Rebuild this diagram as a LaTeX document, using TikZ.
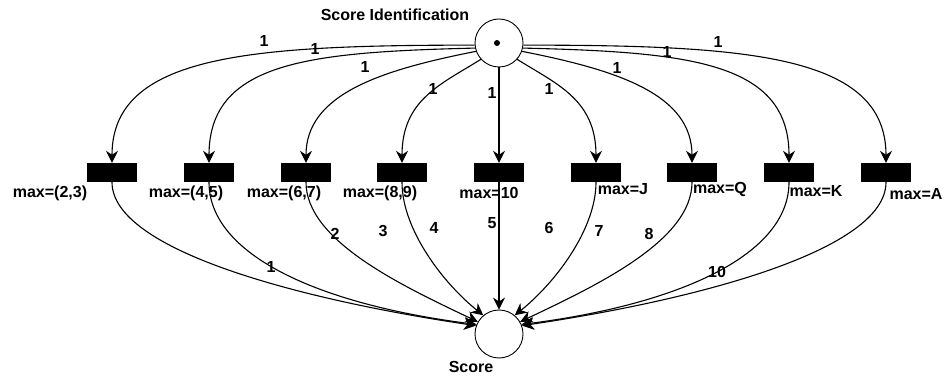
\documentclass[tikz,border=0pt]{standalone}
\usepackage{fontspec}
\setmainfont{Liberation Sans}
\usetikzlibrary{arrows.meta}
\begin{document}
\begin{tikzpicture}[x=1pt,y=-1pt,
  place/.style={circle,draw,line width=0.9pt,minimum size=48pt,inner sep=0pt},
  trans/.style={fill=black,minimum width=50pt,minimum height=19pt,inner sep=0pt},
  lbl/.style={font=\fontsize{16}{18}\selectfont\bfseries,inner sep=0pt},
  arc/.style={line width=1.1pt,-{Stealth[length=12pt,width=12pt,inset=4pt]}},
]
\useasboundingbox (0,0) rectangle (947,379);

% places
\node[place] (top) at (499,43) {};
\node[circle,fill=black,minimum size=6pt,inner sep=0pt] (tok) at (497,43) {};
\node[place] (sc) at (499,334) {};
\node[lbl] (topname) at (395,15) {Score Identification};
\node[lbl] (scname) at (471,367) {Score};

% transitions
\foreach \i/\x in {1/112,2/209,3/306,4/402,5/499,6/596,7/692,8/789,9/886}
  \node[trans] (t\i) at (\x,172.5) {};

% guards
\node[lbl] (g1) at (50,193) {max=(2,3)};
\node[lbl] (g2) at (186,193) {max=(4,5)};
\node[lbl] (g3) at (284,193) {max=(6,7)};
\node[lbl] (g4) at (380,193) {max=(8,9)};
\node[lbl] (g5) at (489,193) {max=10};
\node[lbl] (g6) at (623,189) {max=J};
\node[lbl] (g7) at (720,189) {max=Q};
\node[lbl] (g8) at (816,191) {max=K};
\node[lbl] (g9) at (916,194) {max=A};

% input arcs
\draw[arc] (top.185) .. controls +(-225,0) and +(0,-108) .. (t1.north);
\draw[arc] (top.192) .. controls +(-166,4) and +(0,-101) .. (t2.north);
\draw[arc] (top.200) .. controls +(-97,19) and +(0,-68) .. (t3.north);
\draw[arc] (top.222) .. controls +(-40,25) and +(0,-63) .. (t4.north);
\draw[arc] (top.south) -- (t5.north);
\draw[arc] (top.318) .. controls +(40,25) and +(0,-63) .. (t6.north);
\draw[arc] (top.340) .. controls +(97,19) and +(0,-68) .. (t7.north);
\draw[arc] (top.348) .. controls +(166,4) and +(0,-101) .. (t8.north);
\draw[arc] (top.355) .. controls +(225,0) and +(0,-108) .. (t9.north);

% output arcs
\draw[arc] (t1.south) .. controls +(0,68) and +(-176,-26) .. (sc.160);
\draw[arc] (t2.south) .. controls +(0,73) and +(-157,-20) .. (sc.157);
\draw[arc] (t3.south) .. controls +(0,58) and +(-78,-37) .. (sc.150);
\draw[arc] (t4.south) .. controls +(0,48) and +(-39,-31) .. (sc.130);
\draw[arc] (t5.south) -- (sc.north);
\draw[arc] (t6.south) .. controls +(0,48) and +(39,-31) .. (sc.50);
\draw[arc] (t7.south) .. controls +(0,58) and +(78,-37) .. (sc.30);
\draw[arc] (t8.south) .. controls +(0,73) and +(157,-20) .. (sc.23);
\draw[arc] (t9.south) .. controls +(0,68) and +(176,-26) .. (sc.20);

% input weights
\foreach \n/\x/\y in {1/264/41,2/315/49,3/365/67,4/433/89,5/492/93,6/549/89,7/617/68,8/667/52,9/718/42}
  \node[lbl] (w\n) at (\x,\y) {1};

% output weights
\node[lbl] (v1) at (271,267) {1};
\node[lbl] (v2) at (335,234) {2};
\node[lbl] (v3) at (383,231) {3};
\node[lbl] (v4) at (434,228) {4};
\node[lbl] (v5) at (492,223) {5};
\node[lbl] (v6) at (549,228) {6};
\node[lbl] (v7) at (599,231) {7};
\node[lbl] (v8) at (649,234) {8};
\node[lbl] (v9) at (717,272) {10};
\end{tikzpicture}
\end{document}
